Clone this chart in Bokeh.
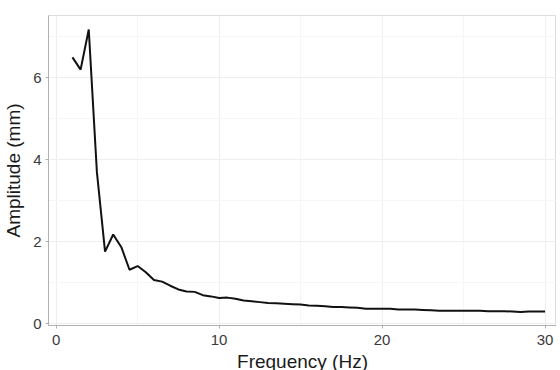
from bokeh.plotting import figure
from bokeh.models import FixedTicker, Range1d
from bokeh.embed import file_html
from bokeh.resources import INLINE

freq = [1.0, 1.5, 2.0, 2.5, 3.0, 3.5, 4.0, 4.5, 5.0, 5.5, 6.0, 6.5, 7.0, 7.5, 8.0, 8.5,
        9.0, 9.5, 10.0, 10.5, 11.0, 11.5, 12.0, 12.5, 13.0, 13.5, 14.0, 14.5, 15.0, 15.5,
        16.0, 16.5, 17.0, 17.5, 18.0, 18.5, 19.0, 19.5, 20.0, 20.5, 21.0, 21.5, 22.0, 22.5,
        23.0, 23.5, 24.0, 24.5, 25.0, 25.5, 26.0, 26.5, 27.0, 27.5, 28.0, 28.5, 29.0, 29.5, 30.0]
amplitude = [6.50, 6.20, 7.18, 3.70, 1.76, 2.18, 1.87, 1.32, 1.41, 1.26, 1.07, 1.03, 0.93, 0.84,
             0.79, 0.78, 0.70, 0.67, 0.63, 0.64, 0.61, 0.57, 0.55, 0.53, 0.51, 0.50, 0.49, 0.48,
             0.47, 0.45, 0.44, 0.43, 0.41, 0.41, 0.40, 0.39, 0.37, 0.37, 0.37, 0.37, 0.35, 0.35,
             0.35, 0.34, 0.33, 0.32, 0.32, 0.32, 0.32, 0.32, 0.32, 0.31, 0.31, 0.31, 0.30, 0.29,
             0.30, 0.30, 0.30]
x_ticks = [0, 10, 20, 30]
x_minor = [5, 15, 25]
y_ticks = [0, 2, 4, 6]
y_minor = [1, 3, 5, 7]

FONT = "Liberation Sans"

p = figure(frame_width=508, frame_height=310, output_backend="svg", toolbar_location=None,
           x_range=Range1d(-0.47, 30.70), y_range=Range1d(-0.04, 7.52),
           min_border_left=44, min_border_top=15, min_border_right=0, min_border_bottom=37)

p.line(freq, amplitude, line_color="#111111", line_width=2)

p.background_fill_color = "white"
p.outline_line_color = "#DDDDDD"
p.outline_line_width = 1

p.xaxis.ticker = FixedTicker(ticks=x_ticks, minor_ticks=x_minor)
p.yaxis.ticker = FixedTicker(ticks=y_ticks, minor_ticks=y_minor)

for g in (p.xgrid, p.ygrid):
    g.grid_line_color = "#EEEEEE"
    g.grid_line_width = 1
    g.minor_grid_line_color = "#F6F6F6"
    g.minor_grid_line_width = 1

for ax in (p.xaxis, p.yaxis):
    ax.axis_line_color = "#B0B0B0"
    ax.major_tick_line_color = "#B0B0B0"
    ax.major_tick_out = 3
    ax.major_tick_in = 0
    ax.minor_tick_line_color = None
    ax.major_label_text_font = FONT
    ax.major_label_text_font_size = "15px"
    ax.major_label_text_color = "#3A3A3A"
    ax.axis_label_text_font = FONT
    ax.axis_label_text_font_size = "19px"
    ax.axis_label_text_font_style = "normal"
    ax.axis_label_text_color = "#1A1A1A"

p.xaxis.axis_label = "Frequency (Hz)"
p.yaxis.axis_label = "Amplitude (mm)"
p.xaxis.major_label_standoff = 5
p.yaxis.major_label_standoff = 3
p.xaxis.axis_label_standoff = 3
p.yaxis.axis_label_standoff = 6

open("out.html", "w").write(file_html(p, INLINE))
